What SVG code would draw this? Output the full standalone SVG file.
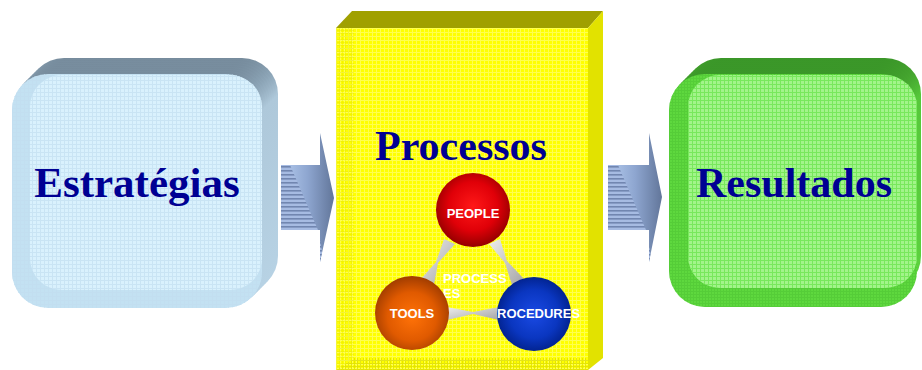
<svg xmlns="http://www.w3.org/2000/svg" xmlns:xlink="http://www.w3.org/1999/xlink" width="922" height="370" viewBox="0 0 922 370">
  <defs>
    <style>
      .title { font-family: "Liberation Serif", "Times New Roman", serif; font-weight: bold; fill: #000093; }
      .ball { font-family: "Liberation Sans", Arial, sans-serif; font-weight: bold; font-size: 13px; fill: #ffffff; }
    </style>
    <!-- fine printed grid textures -->
    <pattern id="gridBlue" width="4" height="4" patternUnits="userSpaceOnUse">
      <path d="M0 0.5H4M0.5 0V4" stroke="#c2def0" stroke-width="1" fill="none"/>
    </pattern>
    <pattern id="gridYellow" width="4" height="4" patternUnits="userSpaceOnUse">
      <path d="M0 0.5H4M0.5 0V4" stroke="#ffff90" stroke-width="1" fill="none"/>
    </pattern>
    <pattern id="gridYellowDark" width="3" height="3" patternUnits="userSpaceOnUse">
      <path d="M0 0.5H3M0.5 0V3" stroke="#d8d800" stroke-width="1" fill="none"/>
    </pattern>
    <pattern id="gridGreen" width="4" height="4" patternUnits="userSpaceOnUse">
      <path d="M0 0.5H4M0.5 0V4" stroke="#78e85c" stroke-width="1" fill="none"/>
    </pattern>
    <pattern id="gridGreenDark" width="3" height="3" patternUnits="userSpaceOnUse">
      <path d="M0 0.5H3M0.5 0V3" stroke="#44b82c" stroke-width="1" fill="none"/>
    </pattern>
    <pattern id="stripes" width="4" height="4" patternUnits="userSpaceOnUse">
      <rect width="4" height="4" fill="#a6bbe2"/>
      <rect y="2" width="4" height="1.6" fill="#7186b0"/>
    </pattern>

    <linearGradient id="backBlue" x1="0" y1="0" x2="0" y2="1">
      <stop offset="0" stop-color="#768b9c"/>
      <stop offset="0.06" stop-color="#8aa2b4"/>
      <stop offset="0.16" stop-color="#aec8da"/>
      <stop offset="1" stop-color="#b8d3e5"/>
    </linearGradient>
    <linearGradient id="backGreen" x1="0" y1="0" x2="0" y2="1">
      <stop offset="0" stop-color="#3a9628"/>
      <stop offset="0.06" stop-color="#44a42e"/>
      <stop offset="0.16" stop-color="#56c83a"/>
      <stop offset="1" stop-color="#5cd23e"/>
    </linearGradient>
    <linearGradient id="arrowFill" x1="0" y1="0" x2="1" y2="0">
      <stop offset="0" stop-color="#b4cbee"/>
      <stop offset="0.5" stop-color="#8ea6d0"/>
      <stop offset="1" stop-color="#62769a"/>
    </linearGradient>
    <linearGradient id="linkFill" x1="0" y1="0" x2="1" y2="1">
      <stop offset="0" stop-color="#eeeeee"/>
      <stop offset="1" stop-color="#a4a4a4"/>
    </linearGradient>
    <radialGradient id="redBall" cx="0.5" cy="0.45" r="0.55">
      <stop offset="0" stop-color="#ff1818"/>
      <stop offset="0.6" stop-color="#e00008"/>
      <stop offset="1" stop-color="#940000"/>
    </radialGradient>
    <radialGradient id="orangeBall" cx="0.5" cy="0.55" r="0.55">
      <stop offset="0" stop-color="#ff7208"/>
      <stop offset="0.6" stop-color="#e05a00"/>
      <stop offset="1" stop-color="#a03c00"/>
    </radialGradient>
    <radialGradient id="blueBall" cx="0.5" cy="0.5" r="0.55">
      <stop offset="0" stop-color="#1a4ae4"/>
      <stop offset="0.6" stop-color="#0a36c0"/>
      <stop offset="1" stop-color="#001e84"/>
    </radialGradient>

    <!-- one slice of each extruded rounded block -->
    <rect id="sliceBlue" x="28" y="58" width="250" height="234" rx="36" fill="url(#backBlue)"/>
    <rect id="sliceGreen" x="685" y="58" width="236" height="234" rx="36" fill="url(#backGreen)"/>

    <clipPath id="arrowClip1">
      <path d="M281,165 H320 V133 L334,198 L320,262 V230 H281 Z"/>
    </clipPath>
    <clipPath id="arrowClip2">
      <path d="M608,165 H649 V133 L662,197 L649,262 V230 H608 Z"/>
    </clipPath>
  </defs>

  <rect width="922" height="370" fill="#ffffff"/>

  <!-- Estratégias block -->
  <g id="estrategias">
    <use xlink:href="#sliceBlue"/>
    <use xlink:href="#sliceBlue" x="-2" y="2"/>
    <use xlink:href="#sliceBlue" x="-4" y="4"/>
    <use xlink:href="#sliceBlue" x="-6" y="6"/>
    <use xlink:href="#sliceBlue" x="-8" y="8"/>
    <use xlink:href="#sliceBlue" x="-10" y="10"/>
    <use xlink:href="#sliceBlue" x="-12" y="12"/>
    <use xlink:href="#sliceBlue" x="-14" y="14"/>
    <rect x="12" y="74" width="250" height="234" rx="36" fill="#c3e1f2"/>
    <rect x="12" y="74" width="250" height="234" rx="36" fill="url(#gridBlue)"/>
    <rect x="30" y="75" width="232" height="215" rx="32" fill="#d9f1fd"/>
    <rect x="30" y="75" width="232" height="215" rx="32" fill="url(#gridBlue)" opacity="0.7"/>
    <text class="title" x="137" y="197" font-size="43" text-anchor="middle">Estratégias</text>
  </g>

  <!-- Processos block -->
  <g id="processos">
    <polygon points="336,28 352,11 603,11 588,28" fill="#a0a000"/>
    <polygon points="588,28 603,11 603,358 588,370" fill="#e2e200"/>
    <rect x="336" y="28" width="252" height="342" fill="#ffff00"/>
    <rect x="336" y="28" width="252" height="342" fill="url(#gridYellow)" opacity="0.55"/>
    <polygon points="336,28 354,28 354,358 336,370" fill="url(#gridYellowDark)" opacity="0.3"/>
    <polygon points="336,370 354,358 588,358 588,370" fill="url(#gridYellowDark)" opacity="0.7"/>
    <text class="title" x="461" y="160" font-size="42" text-anchor="middle">Processos</text>
  </g>

  <!-- Resultados block -->
  <g id="resultados">
    <use xlink:href="#sliceGreen"/>
    <use xlink:href="#sliceGreen" x="-2" y="2"/>
    <use xlink:href="#sliceGreen" x="-4" y="4"/>
    <use xlink:href="#sliceGreen" x="-6" y="6"/>
    <use xlink:href="#sliceGreen" x="-8" y="8"/>
    <use xlink:href="#sliceGreen" x="-10" y="10"/>
    <use xlink:href="#sliceGreen" x="-12" y="12"/>
    <use xlink:href="#sliceGreen" x="-14" y="14"/>
    <rect x="669" y="74" width="248" height="233" rx="36" fill="#5ed83e"/>
    <rect x="669" y="74" width="248" height="233" rx="36" fill="url(#gridGreenDark)" opacity="0.35"/>
    <rect x="688" y="75" width="229" height="213" rx="32" fill="#a2f48a"/>
    <rect x="688" y="75" width="229" height="213" rx="32" fill="url(#gridGreen)"/>
    <text class="title" x="794" y="197" font-size="42" text-anchor="middle">Resultados</text>
  </g>

  <!-- Connectors -->
  <g id="connectors">
    <!-- flow arrows between blocks -->
    <g id="arrow-estrategias-processos">
      <path d="M281,165 H320 V133 L334,198 L320,262 V230 H281 Z" fill="url(#arrowFill)"/>
      <polygon points="281,165 290,165 318,230 324,262 319,262 319,230 281,230" fill="url(#stripes)" clip-path="url(#arrowClip1)"/>
    </g>
    <g id="arrow-processos-resultados">
      <path d="M608,165 H649 V133 L662,197 L649,262 V230 H608 Z" fill="url(#arrowFill)"/>
      <polygon points="608,165 618,165 646,230 652,262 648,262 648,230 608,230" fill="url(#stripes)" clip-path="url(#arrowClip2)"/>
    </g>
    <!-- tapered links between the three spheres -->
    <polygon points="444,239 455,244 438,263 434,285 421,279 436,262" fill="url(#linkFill)"/>
    <polygon points="489,244 500,239 507,261 524,279 512,285 505,263" fill="url(#linkFill)"/>
    <polygon points="447,307 473,312 499,307 499,320 473,314 447,320" fill="url(#linkFill)"/>
  </g>

  <g id="process-label">
    <text class="ball" x="443" y="283">PROCESS</text>
    <text class="ball" x="443" y="298">ES</text>
  </g>

  <g id="people">
    <circle cx="473" cy="210" r="37" fill="url(#redBall)"/>
    <text class="ball" x="473" y="218" text-anchor="middle">PEOPLE</text>
  </g>

  <g id="tools">
    <circle cx="412" cy="313" r="37" fill="url(#orangeBall)"/>
    <text class="ball" x="412" y="318" text-anchor="middle">TOOLS</text>
  </g>

  <g id="procedures">
    <circle cx="534" cy="314" r="37" fill="url(#blueBall)"/>
    <text class="ball" x="497" y="318">ROCEDURES</text>
  </g>
</svg>
